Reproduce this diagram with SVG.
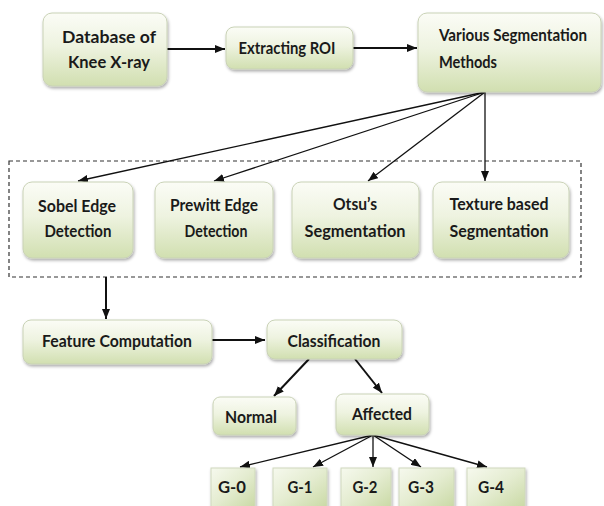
<svg xmlns="http://www.w3.org/2000/svg" width="604" height="506" viewBox="0 0 604 506">
<style>
.box{fill:url(#gv);stroke:#c9d2b6;stroke-width:1;filter:url(#sh)}
.gbox{fill:url(#gd);stroke:#cfd8bd;stroke-width:1;filter:url(#sh)}
.t{font-family:Lato,"Open Sans","Liberation Sans",sans-serif;font-weight:bold;font-size:17px;fill:#1a1a1a;text-anchor:middle}
.tl{text-anchor:start}
.c{stroke:#111;stroke-width:2;fill:none;marker-end:url(#ah)}
.cf{stroke:#111;stroke-width:1.3;fill:none;marker-end:url(#ah2)}
.dash{fill:none;stroke:#333;stroke-width:1.2;stroke-dasharray:4 3}
</style>
<defs>
<linearGradient id="gv" x1="0" y1="0" x2="0" y2="1">
<stop offset="0" stop-color="#fbfcf6"/>
<stop offset="0.45" stop-color="#eef3e0"/>
<stop offset="1" stop-color="#d1dfb0"/>
</linearGradient>
<linearGradient id="gd" x1="0" y1="0" x2="1" y2="1">
<stop offset="0" stop-color="#f6f9ee"/>
<stop offset="0.5" stop-color="#e4ecd0"/>
<stop offset="1" stop-color="#c9d9a4"/>
</linearGradient>
<filter id="sh" x="-10%" y="-10%" width="125%" height="135%">
<feDropShadow dx="1" dy="2" stdDeviation="1.6" flood-color="#000" flood-opacity="0.32"/>
</filter>
<marker id="ah" markerUnits="userSpaceOnUse" viewBox="0 0 10 8" refX="10" refY="4" markerWidth="10" markerHeight="8" orient="auto">
<path d="M0,0 L10,4 L0,8 z" fill="#111"/>
</marker>
<marker id="ah2" markerUnits="userSpaceOnUse" viewBox="0 0 10 8" refX="10" refY="4" markerWidth="10" markerHeight="8" orient="auto">
<path d="M0,0 L10,4 L0,8 z" fill="#111"/>
</marker>
</defs>
<rect class="dash" x="9" y="161" width="572" height="116"/>
<g id="connectors">
<line class="c" x1="167" y1="49" x2="225" y2="49"/>
<line class="c" x1="353" y1="48" x2="417" y2="48"/>
<line class="cf" x1="485" y1="92" x2="78" y2="181"/>
<line class="cf" x1="485" y1="92" x2="214" y2="181"/>
<line class="cf" x1="485" y1="92" x2="368" y2="181"/>
<line class="cf" x1="485" y1="92" x2="485" y2="181"/>
<line class="c" x1="106" y1="277" x2="106" y2="319"/>
<line class="c" x1="212" y1="340" x2="265" y2="340"/>
<line class="c" x1="309" y1="359" x2="274" y2="396"/>
<line class="c" x1="355" y1="359" x2="382" y2="393"/>
<line class="cf" x1="373" y1="435" x2="240" y2="467"/>
<line class="cf" x1="373" y1="435" x2="313" y2="467"/>
<line class="cf" x1="373" y1="435" x2="373" y2="467"/>
<line class="cf" x1="373" y1="435" x2="421" y2="467"/>
<line class="cf" x1="373" y1="435" x2="487" y2="467"/>
</g>
<g id="database">
<rect class="box" x="43" y="13" width="124" height="73" rx="9"/>
<text class="t" x="109" y="43" textLength="94" lengthAdjust="spacingAndGlyphs">Database of</text>
<text class="t" x="109" y="68" textLength="82" lengthAdjust="spacingAndGlyphs">Knee X-ray</text>
</g>
<g id="roi">
<rect class="box" x="226" y="27" width="127" height="42" rx="8"/>
<text class="t" x="287" y="54" textLength="97" lengthAdjust="spacingAndGlyphs">Extracting ROI</text>
</g>
<g id="various">
<rect class="box" x="418" y="13" width="183" height="79" rx="9"/>
<text class="t tl" x="439" y="41" textLength="148" lengthAdjust="spacingAndGlyphs">Various Segmentation</text>
<text class="t tl" x="439" y="68" textLength="58" lengthAdjust="spacingAndGlyphs">Methods</text>
</g>
<g id="sobel">
<rect class="box" x="23" y="182" width="110" height="76" rx="9"/>
<text class="t" x="77" y="212" textLength="78" lengthAdjust="spacingAndGlyphs">Sobel Edge</text>
<text class="t" x="78" y="237" textLength="67" lengthAdjust="spacingAndGlyphs">Detection</text>
</g>
<g id="prewitt">
<rect class="box" x="155" y="182" width="118" height="76" rx="9"/>
<text class="t" x="214" y="211" textLength="88" lengthAdjust="spacingAndGlyphs">Prewitt Edge</text>
<text class="t" x="216" y="237" textLength="63" lengthAdjust="spacingAndGlyphs">Detection</text>
</g>
<g id="otsu">
<rect class="box" x="292" y="182" width="127" height="76" rx="9"/>
<text class="t" x="355" y="210" textLength="44" lengthAdjust="spacingAndGlyphs">Otsu’s</text>
<text class="t" x="355" y="237" textLength="101" lengthAdjust="spacingAndGlyphs">Segmentation</text>
</g>
<g id="texture">
<rect class="box" x="433" y="182" width="136" height="76" rx="9"/>
<text class="t" x="499" y="210" textLength="99" lengthAdjust="spacingAndGlyphs">Texture based</text>
<text class="t" x="499" y="237" textLength="99" lengthAdjust="spacingAndGlyphs">Segmentation</text>
</g>
<g id="feature">
<rect class="box" x="23" y="320" width="189" height="44" rx="8"/>
<text class="t" x="117" y="347" textLength="150" lengthAdjust="spacingAndGlyphs">Feature Computation</text>
</g>
<g id="classification">
<rect class="box" x="267" y="320" width="135" height="39" rx="8"/>
<text class="t" x="334" y="347" textLength="93" lengthAdjust="spacingAndGlyphs">Classification</text>
</g>
<g id="normal">
<rect class="box" x="213" y="397" width="83" height="38" rx="7"/>
<text class="t" x="251" y="423" textLength="52" lengthAdjust="spacingAndGlyphs">Normal</text>
</g>
<g id="affected">
<rect class="box" x="336" y="394" width="93" height="41" rx="7"/>
<text class="t" x="382" y="420" textLength="60" lengthAdjust="spacingAndGlyphs">Affected</text>
</g>
<g id="g0">
<rect class="gbox" x="211" y="468" width="44" height="40"/>
<text class="t" x="232" y="493" textLength="28" lengthAdjust="spacingAndGlyphs">G-0</text>
</g>
<g id="g1">
<rect class="gbox" x="273" y="468" width="54" height="40"/>
<text class="t" x="300" y="493" textLength="25" lengthAdjust="spacingAndGlyphs">G-1</text>
</g>
<g id="g2">
<rect class="gbox" x="341" y="468" width="50" height="40"/>
<text class="t" x="365" y="493" textLength="25" lengthAdjust="spacingAndGlyphs">G-2</text>
</g>
<g id="g3">
<rect class="gbox" x="399" y="468" width="55" height="40"/>
<text class="t" x="421" y="493" textLength="26" lengthAdjust="spacingAndGlyphs">G-3</text>
</g>
<g id="g4">
<rect class="gbox" x="467" y="468" width="58" height="40"/>
<text class="t" x="491" y="493" textLength="26" lengthAdjust="spacingAndGlyphs">G-4</text>
</g>
</svg>
